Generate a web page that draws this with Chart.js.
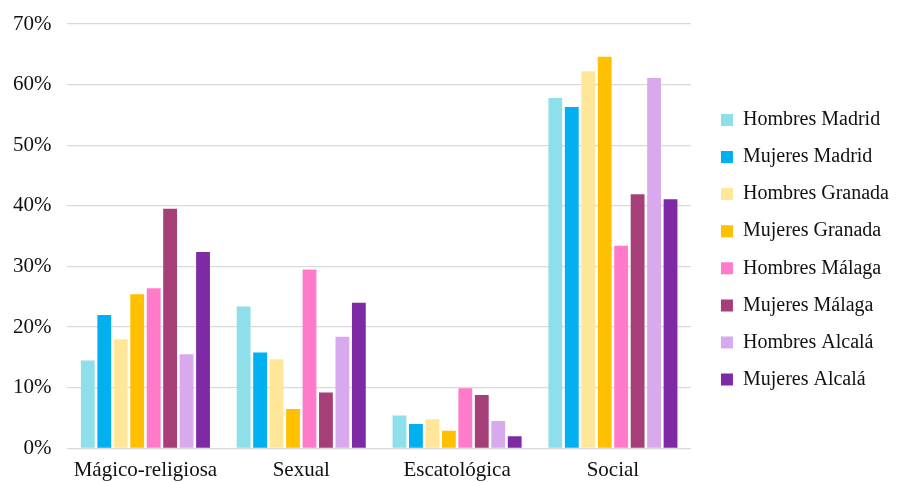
<!DOCTYPE html>
<html lang="es">
<head>
<meta charset="utf-8">
<title>Tipos de tabú por grupo</title>
<script src="https://cdn.jsdelivr.net/npm/chart.js@4.4.1/dist/chart.umd.min.js"></script>
<style>
    html, body { margin: 0; padding: 0; background: #fff; }
    #wrap { width: 897px; height: 482px; position: relative; }
</style>
</head>
<body>
<div id="wrap"><canvas id="grafico"></canvas></div>
<script>
// Categorías y series (porcentajes)
const categorias = ['Mágico-religiosa', 'Sexual', 'Escatológica', 'Social'];

const hombresMadrid  = [14.5, 23.4, 5.4, 57.8];
const mujeresMadrid  = [22.0, 15.8, 4.0, 56.3];
const hombresGranada = [18.0, 14.7, 4.8, 62.2];
const mujeresGranada = [25.4, 6.5, 2.9, 64.6];
const hombresMalaga  = [26.4, 29.5, 9.9, 33.4];
const mujeresMalaga  = [39.5, 9.2, 8.8, 41.9];
const hombresAlcala  = [15.5, 18.4, 4.5, 61.1];
const mujeresAlcala  = [32.4, 24.0, 2.0, 41.1];

const series = [
    { label: 'Hombres Madrid',  data: hombresMadrid,  color: '#8ddfea' },
    { label: 'Mujeres Madrid',  data: mujeresMadrid,  color: '#00b0f0' },
    { label: 'Hombres Granada', data: hombresGranada, color: '#ffe699' },
    { label: 'Mujeres Granada', data: mujeresGranada, color: '#ffc000' },
    { label: 'Hombres Málaga',  data: hombresMalaga,  color: '#ff7ac8' },
    { label: 'Mujeres Málaga',  data: mujeresMalaga,  color: '#a63f78' },
    { label: 'Hombres Alcalá',  data: hombresAlcala,  color: '#d9a9ee' },
    { label: 'Mujeres Alcalá',  data: mujeresAlcala,  color: '#7f2aa5' }
];

const fuente = "'Liberation Serif', 'Times New Roman', serif";

// separa la leyenda del área del gráfico y la sube un poco
const separarLeyenda = {
    id: 'separarLeyenda',
    afterLayout(chart) {
        const lg = chart.legend;
        const ancho = lg.right - lg.left;
        lg.left = chart.chartArea.right + 13;
        lg.right = lg.left + ancho;
        lg.top -= 9;
        lg.bottom -= 9;
    }
};

const ctx = document.getElementById('grafico').getContext('2d');
new Chart(ctx, {
    type: 'bar',
    data: {
        labels: categorias,
        datasets: series.map(s => ({
            label: s.label,
            data: s.data,
            backgroundColor: s.color,
            borderWidth: 0,
            categoryPercentage: 0.845,
            barPercentage: 0.84
        }))
    },
    options: {
        responsive: true,
        maintainAspectRatio: false,
        animation: false,
        layout: { padding: { top: 24, right: 11, left: -3, bottom: -11.5 } },
        plugins: {
            tooltip: { enabled: false },
            legend: {
                position: 'right',
                labels: {
                    font: { family: fuente, size: 20 },
                    color: '#111',
                    boxWidth: 12,
                    boxHeight: 12,
                    padding: 17.1
                }
            }
        },
        scales: {
            x: {
                grid: { display: false, drawTicks: false },
                border: { display: false },
                ticks: { font: { family: fuente, size: 21 }, color: '#111', padding: 10 }
            },
            y: {
                min: 0,
                max: 70,
                // el padding de las etiquetas no debe empujar el área hacia abajo
                afterFit(scale) {
                    scale.paddingTop = 0;
                    scale.paddingBottom = 0;
                },
                ticks: {
                    stepSize: 10,
                    padding: 16,
                    font: { family: fuente, size: 21 },
                    color: '#111',
                    callback: v => v + '%'
                },
                grid: { color: '#d9d9d9', lineWidth: 1.2, drawTicks: false },
                border: { display: false }
            }
        }
    },
    plugins: [separarLeyenda]
});
</script>
</body>
</html>
